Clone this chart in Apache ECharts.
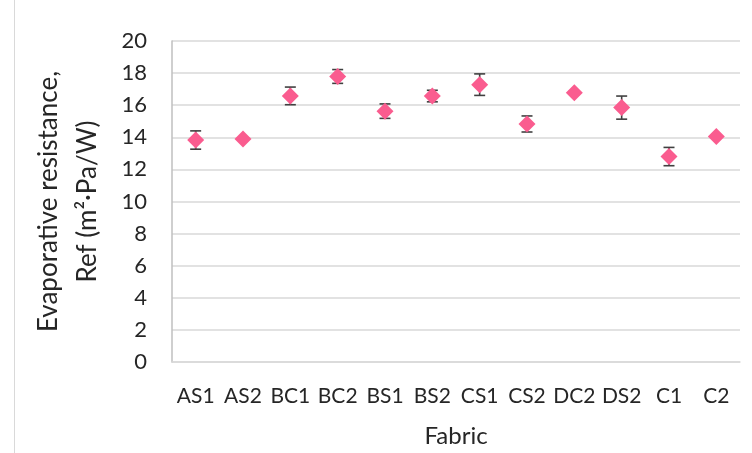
<!DOCTYPE html>
<html>
<head>
<meta charset="utf-8">
<script src="https://cdn.jsdelivr.net/npm/echarts@6/dist/echarts.min.js"></script>
<style>
  html, body { margin: 0; padding: 0; background: #fff; }
  #chart { width: 752px; height: 453px; }
</style>
</head>
<body>
<div id="chart"></div>
<script>
// Fabric samples and their evaporative resistance (mean and standard deviation)
const fabrics = ['AS1', 'AS2', 'BC1', 'BC2', 'BS1', 'BS2', 'CS1', 'CS2', 'DC2', 'DS2', 'C1', 'C2'];
const retMean = [13.83, 13.89, 16.58, 17.79, 15.63, 16.57, 17.28, 14.83, 16.78, 15.85, 12.80, 14.05];
const retStd = [0.57, 0.05, 0.55, 0.43, 0.45, 0.36, 0.67, 0.50, 0.10, 0.72, 0.57, 0.05];
const yTicks = [0, 2, 4, 6, 8, 10, 12, 14, 16, 18, 20];

const font = 'Lato, "Liberation Sans", sans-serif';
const chart = echarts.init(document.getElementById('chart'), null, { renderer: 'canvas' });

const errorData = fabrics.map((f, i) => [i, retMean[i] - retStd[i], retMean[i] + retStd[i]]);

chart.setOption({
  animation: false,
  backgroundColor: '#ffffff',
  grid: { left: 172, right: 12, top: 41, bottom: 91 },
  graphic: [{
    type: 'line',
    shape: { x1: 14.5, y1: 0, x2: 14.5, y2: 453 },
    style: { stroke: '#d9d9d9', lineWidth: 1 }
  }],
  xAxis: {
    type: 'category',
    data: fabrics,
    boundaryGap: true,
    name: 'Fabric',
    nameLocation: 'middle',
    nameGap: 62,
    nameTextStyle: { fontFamily: font, fontSize: 24, color: '#262626' },
    axisLine: { show: true, lineStyle: { color: '#d9d9d9', width: 1.5 } },
    axisTick: { show: false },
    axisLabel: { fontFamily: font, fontSize: 21, color: '#262626', margin: 24, interval: 0 }
  },
  yAxis: {
    type: 'value',
    min: yTicks[0],
    max: yTicks[yTicks.length - 1],
    interval: 2,
    name: 'Evaporative resistance,\nRef (m²·Pa/W)',
    nameLocation: 'middle',
    nameGap: 65,
    nameRotate: 90,
    nameTextStyle: { fontFamily: font, fontSize: 26, color: '#262626', lineHeight: 39, align: 'center' },
    axisLine: { show: true, lineStyle: { color: '#bfbfbf', width: 1.5 } },
    axisTick: { show: false },
    axisLabel: { fontFamily: font, fontSize: 22, color: '#262626', margin: 25 },
    splitLine: { show: true, lineStyle: { color: '#d9d9d9', width: 1.5 } }
  },
  series: [
    {
      type: 'custom',
      name: 'Std dev',
      data: errorData,
      z: 3,
      encode: { x: 0, y: [1, 2] },
      renderItem: function (params, api) {
        const x = api.value(0);
        const lo = api.coord([x, api.value(1)]);
        const hi = api.coord([x, api.value(2)]);
        const half = 5.5;
        const style = { stroke: '#404040', lineWidth: 1.6 };
        return {
          type: 'group',
          children: [
            { type: 'line', shape: { x1: lo[0], y1: lo[1], x2: hi[0], y2: hi[1] }, style: style },
            { type: 'line', shape: { x1: hi[0] - half, y1: hi[1], x2: hi[0] + half, y2: hi[1] }, style: style },
            { type: 'line', shape: { x1: lo[0] - half, y1: lo[1], x2: lo[0] + half, y2: lo[1] }, style: style }
          ]
        };
      }
    },
    {
      type: 'scatter',
      name: 'Ref',
      data: retMean,
      symbol: 'diamond',
      symbolSize: [17, 17],
      z: 4,
      itemStyle: { color: '#fa5c8f', opacity: 1 }
    }
  ]
});
</script>
</body>
</html>
